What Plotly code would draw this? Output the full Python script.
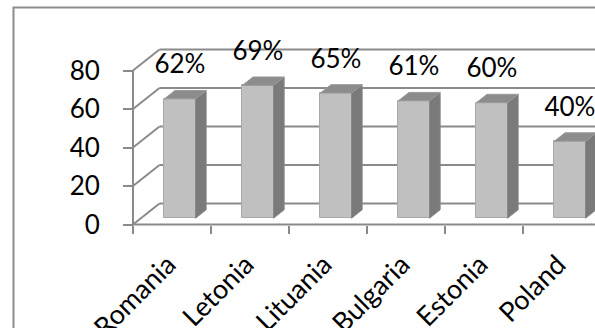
import plotly.graph_objects as go

# ---- data ----
categories = ["Romania", "Letonia", "Lituania", "Bulgaria", "Estonia", "Poland"]
values = [62, 69, 65, 61, 60, 40]
value_labels = [f"{v}%" for v in values]
y_ticks = [0, 20, 40, 60, 80]

# ---- geometry (pixels -> data units) ----
W, H = 595, 328
ML, MR, MT, MB = 100, 0, 10, 60
PW, PH = W - ML - MR, H - MT - MB
PX_CAT = 78.0          # pixels per category
PX_VAL = 1.925         # pixels per value unit
AX_X = 133.0           # pixel x of front-left edge
AX_Y = 224.5           # pixel y of value 0 (front)
x_range = [-0.5 - (AX_X - ML) / PX_CAT, -0.5 + (W - MR - AX_X) / PX_CAT]
y_range = [-(H - MB - AX_Y) / PX_VAL, (AX_Y - MT) / PX_VAL]
DX = 26.5 / PX_CAT     # depth shift (full depth) in x units
DY = 21.0 / PX_VAL     # depth shift (full depth) in value units
Z0, Z1 = 0.3, 0.7      # bar depth extent
HALF = 0.2             # half bar width
LBL_SHIFT = -4.0 / PX_CAT  # small nudge of category labels
n = len(categories)
ymax = max(y_ticks)


def proj(x, v, z):
    return x + z * DX, v + z * DY


GRID = "#8a8a8a"
shapes = []


def seg(p, q, color=GRID, width=2):
    shapes.append(dict(type="line", xref="x", yref="y", x0=p[0], y0=p[1], x1=q[0], y1=q[1],
                       line=dict(color=color, width=width), layer="below"))


# back wall gridlines & side wall
for v in y_ticks:
    seg(proj(-0.5, v, 1), proj(n + 0.5, v, 1))
    seg(proj(-0.5, v, 0), proj(-0.5, v, 1))
# front vertical edge and front floor edge
seg(proj(-0.5, 0, 0), proj(-0.5, ymax, 0))
seg(proj(-0.5, 0, 0), proj(n + 0.5, 0, 0))

# outer chart border
shapes.append(dict(type="rect", xref="paper", yref="paper",
                   x0=(13.5 - ML) / PW, x1=1.1, y0=-0.5, y1=(H - MB - 7.5) / PH,
                   line=dict(color="#8c8c8c", width=2), layer="above"))

fig = go.Figure()

# front faces
fig.add_trace(go.Bar(
    x=[i + Z0 * DX for i in range(n)], y=values, base=Z0 * DY, width=2 * HALF,
    marker=dict(color="#c0c0c0", line=dict(color="#a8a8a8", width=1)),
    hoverinfo="skip", showlegend=False))

# side and top faces
sx, sy = [], []
tx, ty = [], []
for i, v in enumerate(values):
    pts = [proj(i + HALF, 0, Z0), proj(i + HALF, 0, Z1), proj(i + HALF, v, Z1), proj(i + HALF, v, Z0)]
    for p in pts + [pts[0]]:
        sx.append(p[0]); sy.append(p[1])
    sx.append(None); sy.append(None)
    pts = [proj(i - HALF, v, Z0), proj(i + HALF, v, Z0), proj(i + HALF, v, Z1), proj(i - HALF, v, Z1)]
    for p in pts + [pts[0]]:
        tx.append(p[0]); ty.append(p[1])
    tx.append(None); ty.append(None)

fig.add_trace(go.Scatter(x=sx, y=sy, mode="lines", fill="toself", fillcolor="#7a7a7a",
                         line=dict(color="#888888", width=1), hoverinfo="skip", showlegend=False))
fig.add_trace(go.Scatter(x=tx, y=ty, mode="lines", fill="toself", fillcolor="#8c8c8c",
                         line=dict(color="#9a9a9a", width=1), hoverinfo="skip", showlegend=False))

# data labels
LABEL_OFF = 32.0 / PX_VAL
fig.add_trace(go.Scatter(
    x=[i + Z0 * DX for i in range(n)], y=[v + Z0 * DY + LABEL_OFF for v in values],
    mode="text", text=value_labels, textposition="middle center",
    textfont=dict(family="Lato", size=26, color="black"),
    cliponaxis=False, hoverinfo="skip", showlegend=False))

fig.update_layout(
    width=W, height=H,
    margin=dict(l=ML, r=MR, t=MT, b=MB, autoexpand=False),
    paper_bgcolor="white", plot_bgcolor="white",
    font=dict(family="Lato", size=26, color="black"),
    shapes=shapes,
    bargap=0,
    xaxis=dict(range=x_range, anchor="free", position=(H - MB - AX_Y) / PH,
               automargin=False,
               showgrid=False, zeroline=False, showline=False,
               tickmode="array", tickvals=[i + LBL_SHIFT for i in range(n)], ticktext=categories,
               tickangle=-45, ticks="", ticklabelstandoff=18,
               tickfont=dict(family="Lato", size=27, color="black"),
               minor=dict(tickmode="array", tickvals=[i - 0.5 for i in range(n + 1)],
                          ticks="outside", ticklen=8, tickwidth=2, tickcolor=GRID),
               fixedrange=True),
    yaxis=dict(range=y_range, anchor="free", position=(AX_X - ML) / PW,
               automargin=False,
               showgrid=False, zeroline=False, showline=False,
               tickmode="array", tickvals=y_ticks,
               ticks="outside", ticklen=10, tickwidth=2, tickcolor=GRID,
               ticklabelstandoff=18, fixedrange=True),
)

fig.write_html("out.html")
